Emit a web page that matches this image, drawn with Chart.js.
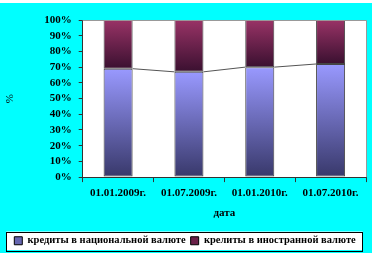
<!DOCTYPE html>
<html>
<head>
<meta charset="utf-8">
<script src="https://cdn.jsdelivr.net/npm/chart.js@4/dist/chart.umd.min.js"></script>
<style>
  html, body { margin: 0; padding: 0; background: #fff; }
  #wrap { width: 375px; height: 256px; }
</style>
</head>
<body>
<div id="wrap"><canvas id="grafico" width="375" height="256"></canvas></div>
<script>
const datas = ['01.01.2009г.', '01.07.2009г.', '01.01.2010г.', '01.07.2010г.'];
const nacional = [69, 67, 70, 72];
const estrangeira = [31, 33, 30, 28];
const yTicks = [0, 10, 20, 30, 40, 50, 60, 70, 80, 90, 100];

const fonteSerif = 'Liberation Serif, Times New Roman, serif';

// gradiente vertical dentro de cada segmento da barra
function gradiente(context, claro, escuro) {
  const chart = context.chart;
  const y = chart.scales.y;
  if (!chart.chartArea || !y) return claro;
  const i = context.dataIndex;
  let topo, base;
  if (context.datasetIndex === 0) {
    topo = y.getPixelForValue(nacional[i]);
    base = y.getPixelForValue(0);
  } else {
    topo = y.getPixelForValue(100);
    base = y.getPixelForValue(nacional[i]);
  }
  if (!isFinite(topo) || !isFinite(base) || topo === base) return claro;
  const g = chart.ctx.createLinearGradient(0, topo, 0, base);
  g.addColorStop(0, claro);
  g.addColorStop(1, escuro);
  return g;
}

const fundo = {
  id: 'fundo',
  beforeDraw(chart) {
    const ctx = chart.ctx;
    const a = chart.chartArea;
    ctx.save();
    ctx.fillStyle = '#00ffff';
    ctx.fillRect(0, 3, 372, 250);
    ctx.fillStyle = '#ffffff';
    ctx.fillRect(a.left, a.top, a.right - a.left, a.bottom - a.top);
    // caixa da legenda
    const lg = chart.legend;
    if (lg && lg.legendHitBoxes && lg.legendHitBoxes.length) {
      const hb = lg.legendHitBoxes;
      const x0 = Math.min(...hb.map(h => h.left)) - 8;
      const x1 = Math.max(...hb.map(h => h.left + h.width)) + 7;
      const y0 = Math.min(...hb.map(h => h.top)) - 4;
      const y1 = Math.max(...hb.map(h => h.top + h.height)) + 4;
      ctx.fillRect(x0, y0, x1 - x0, y1 - y0);
      ctx.strokeStyle = '#000';
      ctx.lineWidth = 1;
      ctx.strokeRect(Math.round(x0) + 0.5, Math.round(y0) + 0.5, Math.round(x1 - x0), Math.round(y1 - y0));
    }
    ctx.restore();
  },
  afterDatasetsDraw(chart) {
    const ctx = chart.ctx;
    const a = chart.chartArea;
    ctx.save();
    // borda cinza da área do gráfico (topo e direita)
    ctx.strokeStyle = '#999';
    ctx.lineWidth = 1;
    ctx.beginPath();
    ctx.moveTo(a.left, Math.round(a.top) + 0.5);
    ctx.lineTo(Math.round(a.right) + 0.5, Math.round(a.top) + 0.5);
    ctx.lineTo(Math.round(a.right) + 0.5, a.bottom);
    ctx.stroke();
    // linhas de série entre as barras
    const meta = chart.getDatasetMeta(0);
    ctx.strokeStyle = '#555';
    ctx.beginPath();
    for (let i = 0; i < meta.data.length - 1; i++) {
      const el = meta.data[i];
      const prox = meta.data[i + 1];
      ctx.moveTo(el.x + el.width / 2, el.y);
      ctx.lineTo(prox.x - prox.width / 2, prox.y);
    }
    ctx.stroke();
    ctx.restore();
  }
};

new Chart(document.querySelector('#grafico').getContext('2d'), {
  type: 'bar',
  data: {
    labels: datas,
    datasets: [
      {
        label: 'кредиты в национальной валюте',
        data: nacional,
        backgroundColor: (c) => gradiente(c, '#9999ff', '#38386a'),
        borderColor: '#444',
        borderWidth: 1,
        borderSkipped: false,
        barPercentage: 0.41,
        categoryPercentage: 1
      },
      {
        label: 'крелиты в иностранной валюте',
        data: estrangeira,
        backgroundColor: (c) => gradiente(c, '#993366', '#3a1030'),
        borderColor: '#444',
        borderWidth: 1,
        borderSkipped: false,
        barPercentage: 0.41,
        categoryPercentage: 1
      }
    ]
  },
  options: {
    responsive: false,
    animation: false,
    layout: { padding: { top: 20, right: 9, left: 4, bottom: 0 } },
    plugins: {
      tooltip: { enabled: false },
      legend: {
        position: 'bottom',
        labels: {
          color: '#000',
          font: { family: fonteSerif, size: 10.5, weight: 'bold' },
          boxWidth: 8,
          boxHeight: 8,
          padding: 5,
          generateLabels(chart) {
            return chart.data.datasets.map((ds, i) => ({
              text: ds.label,
              fillStyle: i === 0 ? '#6666b0' : '#6a2048',
              strokeStyle: '#000',
              lineWidth: 1,
              datasetIndex: i
            }));
          }
        }
      }
    },
    scales: {
      x: {
        stacked: true,
        border: { color: '#333', width: 1 },
        grid: { drawOnChartArea: false, drawTicks: true, tickLength: 5, color: '#333' },
        ticks: {
          color: '#000',
          padding: 4,
          maxRotation: 0,
          font: { family: fonteSerif, size: 11, weight: 'bold' }
        },
        title: {
          display: true,
          text: 'дата',
          color: '#000',
          padding: { top: 3, bottom: 11 },
          font: { family: fonteSerif, size: 11, weight: 'bold' }
        }
      },
      y: {
        stacked: true,
        min: 0,
        max: 100,
        border: { color: '#333', width: 1 },
        grid: { drawOnChartArea: false, drawTicks: true, tickLength: 4, color: '#333' },
        afterBuildTicks(axis) {
          axis.ticks = yTicks.map(v => ({ value: v }));
        },
        ticks: {
          color: '#000',
          padding: 7,
          autoSkip: false,
          font: { family: fonteSerif, size: 11, weight: 'bold' },
          callback: (v) => v + '%'
        },
        title: {
          display: true,
          text: '%',
          color: '#000',
          padding: { top: 0, bottom: 20 },
          font: { family: fonteSerif, size: 11 }
        }
      }
    }
  },
  plugins: [fundo]
});
</script>
</body>
</html>
